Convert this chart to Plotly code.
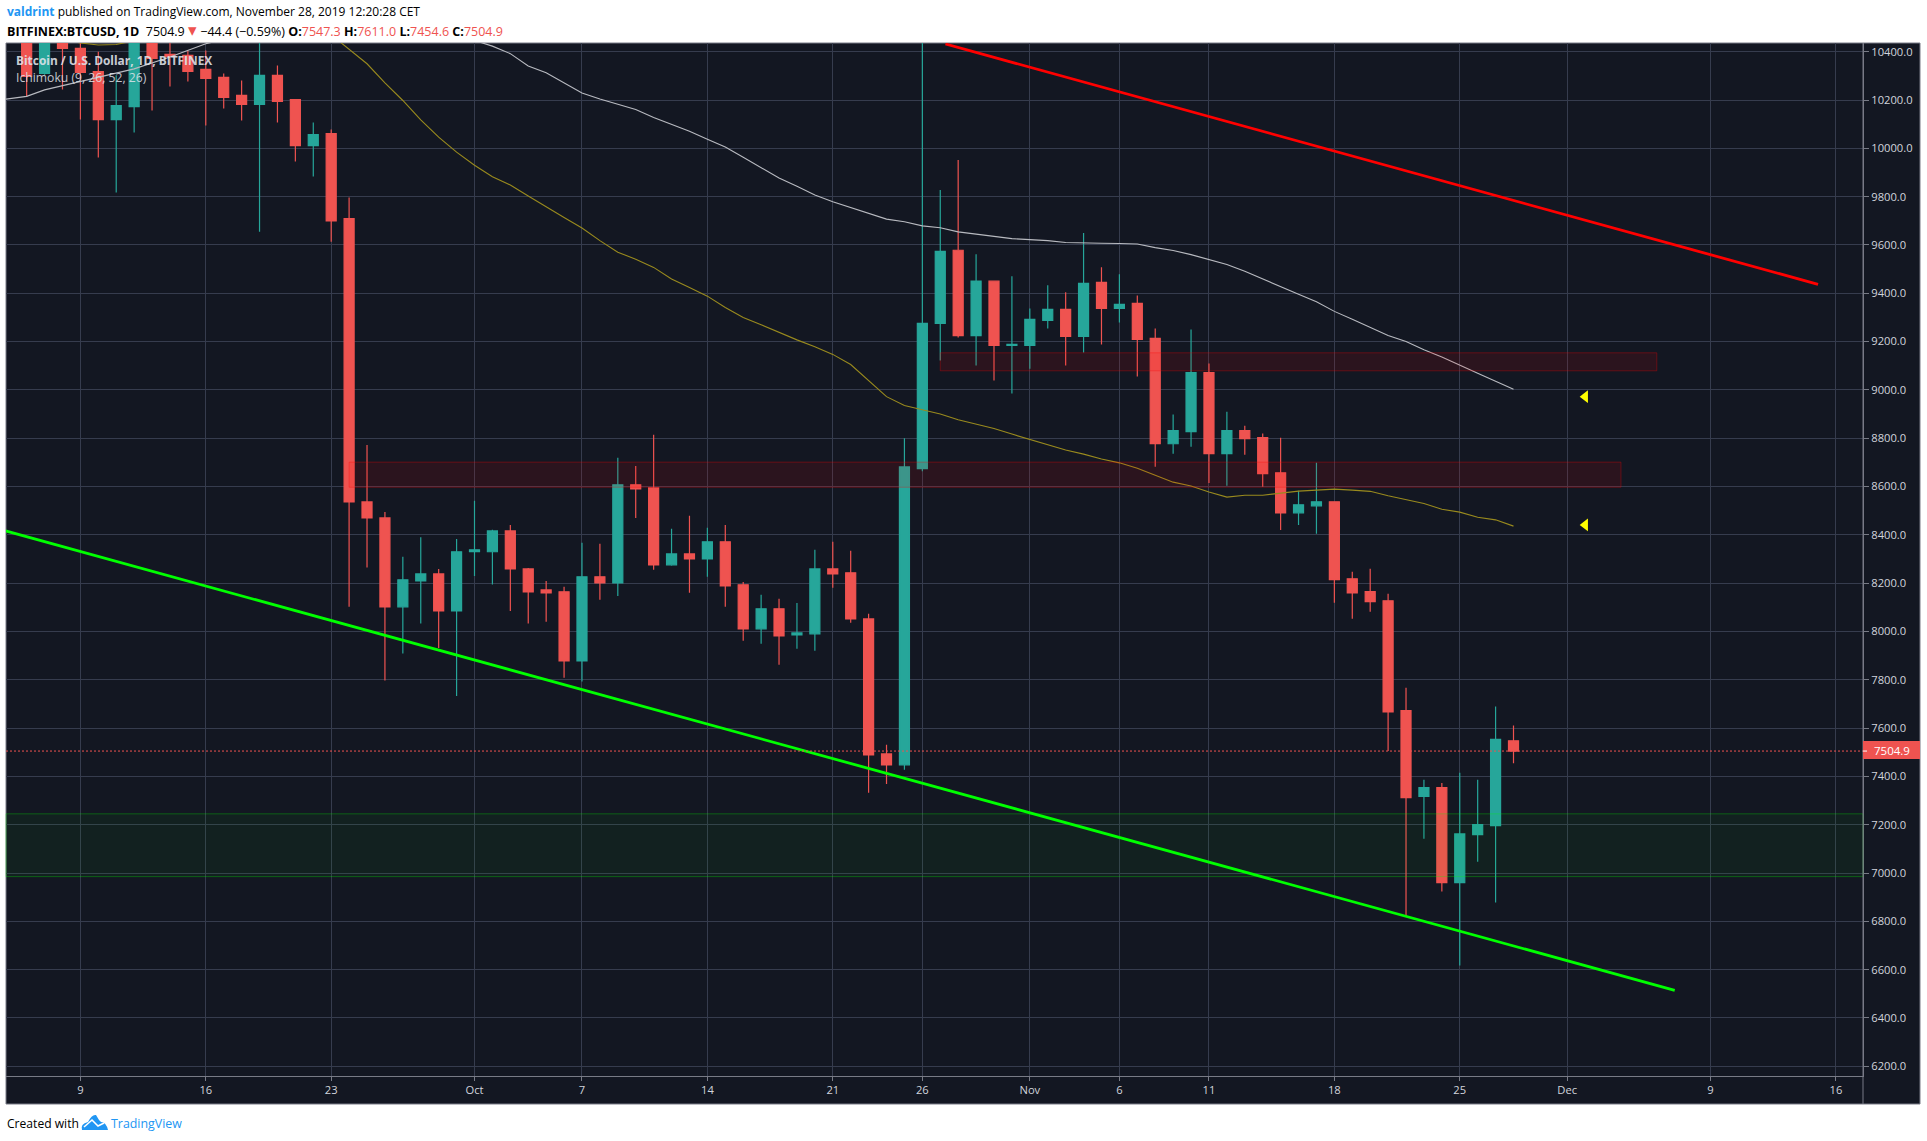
import pandas as pd
import plotly.graph_objects as go

# ---------- data ----------
start_date = "2019-09-06"
opens = [10480,10310,10470,10414,10318,10119,10173,10440,10389,10385,10327,10294,10219,10182,10302,10202,10011,10061,9709,
         8536,8470,8102,8209,8238,8085,
         8330,8330,8416,8259,8172,8164,7878,8226,8201,8607,8594,8276,8321,8300,8371,8193,8011,8094,7986,7990,8259,8243,8052,7493,7448,8674,
         9275,9578,9225,9450,9184,9184,9288,9333,9221,9445,9337,9358,9213,8777,8827,9072,8736,8831,8802,8657,8491,8520,8537,8218,8165,8127,7672,7317,7354,6960,7159,7196,7547.3]
highs = [10500,10500,10490,10450,10400,10302,10480,10470,10460,10405,10405,10310,10281,10480,10343,10202,10107,10078,9796,
         8772,8495,8309,8390,8259,8383,
         8541,8421,8441,8263,8209,8185,8367,8363,8719,8685,8814,8425,8479,8429,8441,8205,8152,8135,8118,8338,8371,8334,8073,7531,8800,10540,
         9827,9952,9562,9450,9470,9337,9433,9404,9649,9508,9479,9391,9254,8898,9250,9109,8910,8852,8819,8802,8582,8698,8537,8247,8260,8156,7767,7386,7373,7415,7386,7689,7611.0]
lows = [10212,10305,10244,10119,9962,9817,10065,10157,10256,10277,10094,10165,10115,9655,10107,9945,9883,9613,8102,
        8265,7797,7909,8033,7932,7733,
        8230,8194,8085,8033,8040,7808,7793,8131,8147,8470,8255,8272,8160,8226,8102,7961,7949,7862,7928,7920,8181,8036,7332,7369,7427,8663,
        9122,9217,9101,9039,8985,9088,9254,9101,9155,9188,9279,9055,8682,8736,8765,8615,8603,8732,8599,8420,8441,8404,8119,8053,8082,7505,6821,7142,6923,6617,7047,6878,7454.6]
closes = [10298,10480,10414,10314,10119,10177,10450,10372,10381,10318,10289,10211,10182,10302,10194,10011,10057,9700,8536,
          8470,8102,8214,8238,8085,8330,
          8338,8416,8259,8164,8160,7878,8226,8201,8607,8590,8276,8321,8300,8371,8189,8011,8094,7982,7994,8259,8238,8052,7489,7448,8681,9275,
          9574,9225,9450,9184,9188,9292,9333,9221,9441,9337,9354,9209,8777,8831,9072,8736,8831,8798,8653,8491,8524,8537,8214,8160,8123,7667,7312,7354,6960,7162,7200,7553,7504.9]

white_days = [-5,-3,-2,-1,0,1,3,5,7,8,10,14,18,21,23,24,25,26,27,28,29,30,31,32,33,34,35,36,37,38,39,40,41,42,43,44,
              45,46,47,48,49,50,51,52,53,54,55,56,57,58,59,60,61,62,63,64,65,66,67,68,69,70,71,72,73,74,75,76,77,78,79,80]
white_vals = [10195,10215,10242,10259,10276,10292,10329,10378,10433,10450,10490,10540,10520,10470,10423,10392,10341,10313,10270,10229,10204,10184,10161,10128,10100,10071,10038,10005,9963,9919,9877,9843,9807,9779,9755,9730,
              9707,9696,9679,9671,9654,9645,9635,9626,9622,9618,9610,9610,9607,9606,9604,9589,9577,9560,9539,9519,9491,9459,9425,9396,9365,9325,9292,9259,9225,9200,9166,9136,9104,9069,9036,9003]

olive_days = [-1,0,1,2,3,6,10,13,14,15,16,17,18,19,20,21,22,23,24,25,26,27,28,29,30,31,32,33,34,35,36,37,38,39,40,41,42,43,44,
              45,46,47,48,49,50,51,52,53,54,55,56,57,58,59,60,61,62,63,64,65,66,67,68,69,70,71,72,73,74,75,76,77,78,79,80]
olive_vals = [10450,10436,10428,10430,10445,10520,10600,10540,10470,10412,10350,10271,10198,10118,10046,9984,9930,9882,9848,9803,9760,9714,9670,9618,9570,9541,9507,9459,9424,9388,9341,9300,9270,9237,9207,9179,9147,9105,9040,
              8972,8935,8917,8900,8876,8859,8840,8817,8795,8776,8751,8734,8714,8698,8676,8647,8618,8602,8577,8556,8564,8564,8573,8581,8585,8589,8585,8580,8562,8545,8530,8506,8494,8473,8462,8436]

red_days, red_vals = [48.29, 97.0], [10432, 9437]
green_days, green_vals = [-5, 89.0], [8433, 6514.5]
marker_days, marker_vals = [84, 84], [8972, 8441]

y_ticks = list(range(6200, 10600, 200))
x_tick_dates = ["2019-09-09","2019-09-16","2019-09-23","2019-10-01","2019-10-07","2019-10-14","2019-10-21","2019-10-26",
                "2019-11-01","2019-11-06","2019-11-11","2019-11-18","2019-11-25","2019-12-01","2019-12-09","2019-12-16"]
x_tick_text = ["9","16","23","Oct","7","14","21","26","Nov","6","11","18","25","Dec","9","16"]
last_price = 7504.9

upper_zone = ("2019-10-27", "2019-12-06", 9079, 9153.5)
lower_zone = ("2019-09-24", "2019-12-04", 8597, 8701)
green_zone = (6985, 7245)

# ---------- layout helpers ----------
W, H = 1927, 1141
L, R, T, B = 6, 1863, 43, 1076
BG = "#131722"
UP, DOWN = "#26a69a", "#ef5350"
FONT = "Open Sans"

def px(x):
    return (x - L) / (R - L)

def py(y):
    return (B - y) / (B - T)

base = pd.Timestamp("2019-09-09")

def day(d):
    return base + pd.to_timedelta(d, unit="D")

dates = pd.date_range(start_date, periods=len(opens), freq="D")

fig = go.Figure()
fig.add_trace(go.Candlestick(
    x=dates, open=opens, high=highs, low=lows, close=closes,
    increasing=dict(line=dict(color=UP, width=1.2), fillcolor=UP),
    decreasing=dict(line=dict(color=DOWN, width=1.2), fillcolor=DOWN),
    whiskerwidth=0, showlegend=False, hoverinfo="skip"))

def line(days, vals, color, width):
    fig.add_trace(go.Scatter(x=[day(d) for d in days], y=vals, mode="lines",
                             line=dict(color=color, width=width), showlegend=False, hoverinfo="skip"))

line(white_days, white_vals, "#b8bac0", 1.1)
line(olive_days, olive_vals, "#998a1e", 1.1)
line(red_days, red_vals, "#ff0000", 2.8)
line(green_days, green_vals, "#00ff00", 2.8)
fig.add_trace(go.Scatter(x=[day(d) for d in marker_days], y=marker_vals, mode="markers",
                         marker=dict(symbol="triangle-left", size=11, color="#ffff00"),
                         showlegend=False, hoverinfo="skip"))

shapes = []
# dark frame behind the axis areas
shapes.append(dict(type="rect", xref="paper", yref="paper", layer="below",
                   x0=px(L), x1=px(1920), y0=py(1104), y1=py(T),
                   fillcolor=BG, line=dict(color="#787b86", width=1)))
for zone in (upper_zone, lower_zone):
    shapes.append(dict(type="rect", xref="x", yref="y", layer="above",
                       x0=zone[0], x1=zone[1], y0=zone[2], y1=zone[3],
                       fillcolor="rgba(255,0,0,0.1)", line=dict(color="rgba(255,0,0,0.3)", width=1)))
shapes.append(dict(type="rect", xref="paper", yref="y", layer="above",
                   x0=0, x1=1, y0=green_zone[0], y1=green_zone[1],
                   fillcolor="rgba(0,255,0,0.045)", line=dict(color="rgba(0,255,0,0.3)", width=1)))
shapes.append(dict(type="line", xref="paper", yref="y", layer="above", x0=0, x1=1,
                   y0=last_price, y1=last_price, line=dict(color=DOWN, width=1, dash="2px,2px")))
# right axis separator runs to the frame bottom
shapes.append(dict(type="line", xref="paper", yref="paper", layer="above",
                   x0=1, x1=1, y0=py(1104), y1=1, line=dict(color="#787b86", width=1)))
# last price tag
shapes.append(dict(type="rect", xref="paper", yref="paper", layer="above",
                   x0=1, x1=px(1920), y0=py(759), y1=py(741), fillcolor=DOWN, line=dict(width=0)))
shapes.append(dict(type="line", xref="paper", yref="y", layer="above",
                   x0=1, x1=px(1867), y0=last_price, y1=last_price, line=dict(color="#ffffff", width=1)))

# TradingView logo
def P(points):
    return " ".join(f"{c}{px(x):.5f},{py(y):.5f}" if c in "ML" else "Z" for c, x, y in points)

cloud = "M {} {} Q {} {} {} {} Q {} {} {} {} L {} {} L {} {} Q {} {} {} {} Q {} {} {} {} Q {} {} {} {} Z".format(
    *[v for p in [(82, 1130), (80, 1124), (88, 1122), (92, 1114), (96, 1115), (99, 1120), (101, 1122),
                  (106, 1122), (108, 1130), (108, 1130), (82, 1130)] for v in (px(p[0]), py(p[1]))],
    px(82), py(1130), px(82), py(1130), px(82), py(1130))
shapes.append(dict(type="path", xref="paper", yref="paper", layer="above", path=cloud,
                   fillcolor="#2196f3", line=dict(width=0)))
shapes.append(dict(type="path", xref="paper", yref="paper", layer="above",
                   path=P([("M", 84, 1127), ("L", 92, 1120), ("L", 98, 1126), ("L", 104, 1123)]),
                   line=dict(color="#ffffff", width=1.6)))

def note(x, y, text, size=12, color="#000000"):
    return dict(xref="paper", yref="paper", x=px(x), y=py(y), xanchor="left", yanchor="middle",
                text=text, showarrow=False, align="left",
                font=dict(family=FONT, size=size, color=color))

RED = "#ef5350"
def r(s):
    return f"<span style='color:{RED}'>{s}</span>"

annotations = [
    note(5, 12, "<span style='color:#2196f3'><b>valdrint</b></span> published on TradingView.com, November 28, 2019 12:20:28 CET", 12.0),
    note(5, 30, "<b>BITFINEX:BTCUSD, 1D</b>  7504.9 " + r("<span style='font-size:17px'>▾</span>") + " −44.4 (−0.59%) <b>O:</b>" + r("7547.3")
         + " <b>H:</b>" + r("7611.0") + " <b>L:</b>" + r("7454.6") + " <b>C:</b>" + r("7504.9"), 12.5),
    note(14, 60.5, "<b>Bitcoin / U.S. Dollar, 1D, BITFINEX</b>", 11.9, "rgba(225,228,235,0.9)"),
    note(14, 77.5, "Ichimoku (9, 26, 52, 26)", 12.2, "rgba(225,228,235,0.85)"),
    note(5, 1123, "Created with", 12.1),
    note(109, 1123, "TradingView", 12.4, "#2196f3"),
    dict(xref="paper", yref="paper", x=px(1891.5), y=py(750), xanchor="center", yanchor="middle",
         text="7504.9", showarrow=False, font=dict(family=FONT, size=11.5, color="#ffffff")),
]

GRID = "#363c4e"
AXIS = "#787b86"
TICKFONT = dict(family=FONT, size=11.2, color="#d1d4dc")
fig.update_layout(
    width=W, height=H, autosize=False,
    margin=dict(l=L, r=W - R, t=T, b=H - B, pad=0),
    paper_bgcolor="#ffffff", plot_bgcolor=BG,
    boxgap=0.2, boxgroupgap=0.3,
    hovermode=False, showlegend=False,
    shapes=shapes, annotations=annotations,
    xaxis=dict(type="date", range=[day(-4.153), day(99.51)], rangeslider=dict(visible=False),
               tickmode="array", tickvals=x_tick_dates, ticktext=x_tick_text, tickangle=0,
               showgrid=True, gridcolor=GRID, gridwidth=1, zeroline=False,
               showline=True, linecolor=AXIS, linewidth=1,
               ticks="outside", ticklen=4, tickcolor=AXIS, tickfont=TICKFONT),
    yaxis=dict(side="right", range=[6159.7, 10436], tickmode="array", tickvals=y_ticks,
               ticktext=[f"{v:.1f}" for v in y_ticks],
               showgrid=True, gridcolor=GRID, gridwidth=1, zeroline=False,
               showline=True, linecolor=AXIS, linewidth=1,
               ticks="outside", ticklen=5, tickcolor=AXIS, tickfont=TICKFONT),
)

fig.write_html("out.html", config={"displayModeBar": False},
               post_script="document.body.style.margin='0';document.body.style.overflow='hidden';")
